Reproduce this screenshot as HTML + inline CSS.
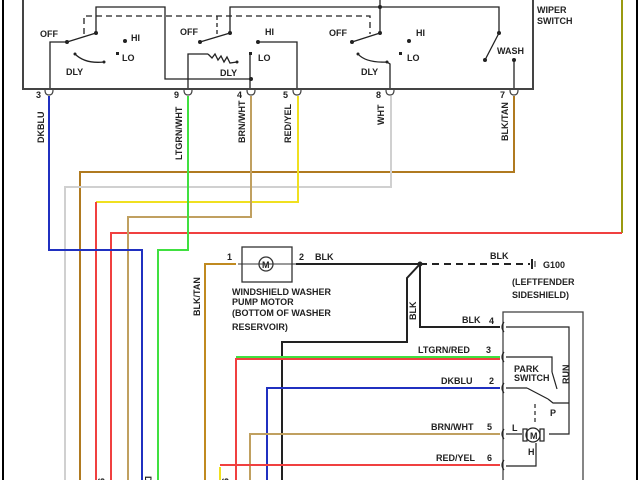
<!DOCTYPE html>
<html><head><style>
html,body{margin:0;padding:0;background:#fff;}
svg{display:block;}
text{font-family:"Liberation Sans",sans-serif;font-size:9px;font-weight:bold;fill:#222;}
</style></head><body>
<svg width="640" height="480" viewBox="0 0 640 480" xmlns="http://www.w3.org/2000/svg">
<rect width="640" height="480" fill="#fff"/>
<line x1="3" y1="0" x2="3" y2="480" stroke="#000" stroke-width="2"/>
<line x1="637" y1="0" x2="637" y2="480" stroke="#000" stroke-width="2"/>
<!-- switch box -->
<polyline points="23,0 23,89 533,89 533,0" fill="none" stroke="#444" stroke-width="2"/>
<text x="537" y="13">WIPER</text><text x="537" y="24">SWITCH</text>
<g fill="none" stroke="#222" stroke-width="1.3">
<polyline points="96,33 96,7 165,7 165,79 251,79"/>
<polyline points="67,42 50,42 50,88"/>
<line x1="67" y1="42" x2="96" y2="33"/>
<path d="M75,54 Q85,64 104,62"/>
<polyline points="230,33 230,7 499,7 499,33"/>
<line x1="380" y1="0" x2="380" y2="33"/>
<line x1="200" y1="42" x2="230" y2="33"/>
<polyline points="258,42 297,42 297,88"/>
<polyline points="250,54 250,88"/>
<polyline points="208,54 188,54 188,88"/>
<polyline points="208,54 212,58 215,54 218,60 221,56 224,62 227,57 230,63 237,62"/>
<line x1="352" y1="42" x2="380" y2="33"/>
<path d="M358,54 Q366,63 387,62 L390,64 L390,88"/>
<line x1="499" y1="33" x2="485" y2="60"/>
<polyline points="514,60 514,88"/>
<polyline points="84,34 84,16 370,16 370,34" stroke-dasharray="6,4"/>
<line x1="217" y1="16" x2="217" y2="34" stroke-dasharray="4,3"/>
</g>
<g fill="#222">
<circle cx="96" cy="33" r="2"/><circle cx="67" cy="42" r="2"/><circle cx="125" cy="41" r="2"/><rect x="116" y="52" width="3" height="3"/><circle cx="75" cy="54" r="1.5"/><circle cx="104" cy="62" r="1.5"/>
<circle cx="230" cy="33" r="2"/><circle cx="200" cy="42" r="2"/><circle cx="258" cy="42" r="2"/><rect x="249" y="52" width="3" height="3"/><circle cx="251" cy="79" r="2"/><circle cx="237" cy="62" r="1.5"/>
<circle cx="380" cy="33" r="2"/><circle cx="352" cy="42" r="2"/><circle cx="409" cy="41" r="2"/><rect x="399" y="52" width="3" height="3"/><circle cx="358" cy="54" r="1.5"/><circle cx="387" cy="62" r="1.5"/>
<circle cx="499" cy="33" r="2"/><circle cx="485" cy="60" r="2"/><circle cx="514" cy="60" r="2"/><circle cx="380" cy="7" r="2"/>
</g>
<text x="40" y="37">OFF</text><text x="131" y="41">HI</text><text x="122" y="61">LO</text><text x="66" y="75">DLY</text>
<text x="180" y="35">OFF</text><text x="265" y="35">HI</text><text x="258" y="61">LO</text><text x="220" y="76">DLY</text>
<text x="329" y="36">OFF</text><text x="416" y="36">HI</text><text x="407" y="61">LO</text><text x="361" y="75">DLY</text>
<text x="497" y="54">WASH</text>
<!-- pins -->
<g fill="none" stroke="#444" stroke-width="1.2">
<path d="M45,90 q0,5 4,5 q4,0 4,-5"/><path d="M184,90 q0,5 4,5 q4,0 4,-5"/><path d="M247,90 q0,5 4,5 q4,0 4,-5"/><path d="M293,90 q0,5 4,5 q4,0 4,-5"/><path d="M386,90 q0,5 4,5 q4,0 4,-5"/><path d="M510,90 q0,5 4,5 q4,0 4,-5"/>
</g>
<text x="36" y="98">3</text><text x="174" y="98">9</text><text x="237" y="98">4</text><text x="283" y="98">5</text><text x="376" y="98">8</text><text x="500" y="98">7</text>
<g font-size="8">
<text transform="translate(44,143) rotate(-90)">DKBLU</text>
<text transform="translate(182,160) rotate(-90)">LTGRN/WHT</text>
<text transform="translate(245,143) rotate(-90)">BRN/WHT</text>
<text transform="translate(291,143) rotate(-90)">RED/YEL</text>
<text transform="translate(384,125) rotate(-90)">WHT</text>
<text transform="translate(508,141) rotate(-90)">BLK/TAN</text>
</g>
<!-- upper wires -->
<g fill="none" stroke-width="2">
<polyline points="622,0 622,233" stroke="#9a9a10"/>
<polyline points="622,233 111,233 111,480" stroke="#f04040"/>
<polyline points="514,96 514,172 80,172 80,480" stroke="#b07a20"/>
<polyline points="391,96 391,187 65,187 65,480" stroke="#d0d0d0"/>
<polyline points="298,96 298,202 96,202" stroke="#f0e020"/>
<polyline points="96,202 96,480" stroke="#f04040"/>
<polyline points="251,96 251,217 128,217 128,480" stroke="#c0a060"/>
<polyline points="49,96 49,250 142,250 142,480" stroke="#2030c0"/>
<polyline points="188,96 188,250 158,250 158,480" stroke="#40e040"/>
</g>
<g font-size="7"><text transform="translate(98,478) rotate(90)">98</text><text transform="translate(145,476) rotate(90)">DS</text><text transform="translate(222,478) rotate(90)">96</text></g>
<!-- washer motor -->
<rect x="242" y="247" width="50" height="35" fill="none" stroke="#333" stroke-width="1.3"/>
<circle cx="266" cy="264" r="7" fill="none" stroke="#333" stroke-width="1.3"/>
<text x="262" y="268" font-size="8">M</text>
<line x1="238" y1="264" x2="296" y2="264" stroke="#333"/>
<text x="227" y="260">1</text><text x="299" y="260">2</text><text x="315" y="260">BLK</text>
<text x="232" y="295" font-size="8">WINDSHIELD WASHER</text><text x="232" y="305" font-size="8">PUMP MOTOR</text><text x="232" y="316" font-size="8">(BOTTOM OF WASHER</text><text x="232" y="330" font-size="8">RESERVOIR)</text>
<g fill="none" stroke-width="2">
<polyline points="296,264 420,264" stroke="#222"/>
<line x1="420" y1="264" x2="530" y2="264" stroke="#222" stroke-dasharray="7,5"/>
<polyline points="420,264 420,327 500,327" stroke="#222"/>
<polyline points="420,264 407,278 407,342 282,342 282,480" stroke="#222"/>
<polyline points="236,264 205,264 205,480" stroke="#c08a20"/>
<polyline points="500,357 236,357" stroke="#40e040"/>
<polyline points="500,359 236,359 236,480" stroke="#f04040"/>
<polyline points="500,388 267,388 267,480" stroke="#2030c0"/>
<polyline points="500,434 250,434 250,480" stroke="#c0a060"/>
<polyline points="500,465 220,465" stroke="#f04040"/>
<polyline points="220,467 220,480" stroke="#f0e020"/>
</g>
<circle cx="420" cy="264" r="2.5" fill="#222"/>
<line x1="532" y1="259" x2="532" y2="269" stroke="#222" stroke-width="2"/><line x1="535" y1="261" x2="535" y2="267" stroke="#222"/>
<text x="490" y="259">BLK</text><text x="543" y="268">G100</text>
<text x="512" y="285" font-size="8">(LEFTFENDER</text><text x="512" y="298" font-size="8">SIDESHIELD)</text>
<text transform="translate(200,316) rotate(-90)" font-size="8">BLK/TAN</text>
<text transform="translate(416,320) rotate(-90)" font-size="8">BLK</text>
<!-- wiper motor box -->
<rect x="503" y="312" width="80" height="180" fill="none" stroke="#444" stroke-width="1.3"/>
<text x="462" y="323">BLK</text><text x="489" y="324">4</text>
<text x="418" y="353">LTGRN/RED</text><text x="486" y="353">3</text>
<text x="441" y="384">DKBLU</text><text x="489" y="384">2</text>
<text x="431" y="430">BRN/WHT</text><text x="487" y="430">5</text>
<text x="436" y="461">RED/YEL</text><text x="487" y="461">6</text>
<g fill="none" stroke="#222" stroke-width="1.2">
<path d="M504,322 q-4,5 0,10"/><path d="M504,352 q-4,5 0,10"/><path d="M504,383 q-4,5 0,10"/><path d="M504,429 q-4,5 0,10"/><path d="M504,460 q-4,5 0,10"/>
<polyline points="506,327 569,327 569,434 549,434"/>
<polyline points="506,357 552,357 552,372"/>
<line x1="552" y1="372" x2="557" y2="389"/>
<polyline points="506,388 527,388"/>
<line x1="527" y1="388" x2="548" y2="399"/>
<polyline points="548,399 553,403 569,403"/>
<line x1="535" y1="404" x2="535" y2="422" stroke-dasharray="4,3"/>
<polyline points="506,434 522,434"/>
<circle cx="533" cy="435" r="7"/>
<rect x="523" y="429" width="4" height="12"/><rect x="540" y="429" width="4" height="12"/>
<polyline points="506,466 536,466 536,443"/>
</g>
<text x="530" y="439" font-size="8">M</text>
<text x="512" y="431" font-size="8">L</text><text x="528" y="455" font-size="8">H</text>
<text x="514" y="372" font-size="8">PARK</text><text x="514" y="381" font-size="8">SWITCH</text>
<text transform="translate(569,384) rotate(-90)" font-size="8">RUN</text>
<text x="550" y="416" font-size="6">P</text>
</svg>
</body></html>
